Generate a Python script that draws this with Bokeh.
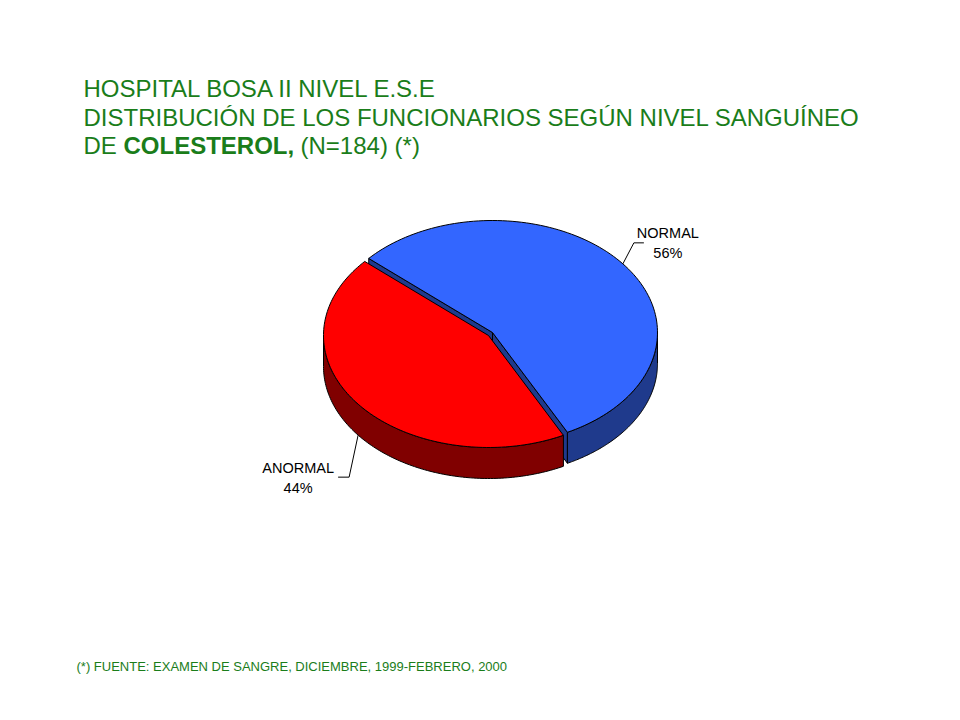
import math
from bokeh.plotting import figure
from bokeh.models import Range1d
from bokeh.core.properties import value
from bokeh.embed import file_html
from bokeh.resources import INLINE

# ---- data ----
categories = ["NORMAL", "ANORMAL"]
percents = [56, 44]
top_colors = ["#3366FF", "#FF0000"]
side_colors = ["#1F3A8C", "#800000"]

title_lines = ["HOSPITAL BOSA II NIVEL E.S.E",
               "DISTRIBUCIÓN DE LOS FUNCIONARIOS SEGÚN  NIVEL  SANGUÍNEO"]
title_line3 = ["DE", "COLESTEROL,", "(N=184) (*)"]
footnote = "(*) FUENTE:  EXAMEN DE SANGRE, DICIEMBRE,  1999-FEBRERO,   2000"

GREEN = "#1A7D1A"
FONT = "Liberation Sans"

W, H = 944, 704
p = figure(width=W, height=H, output_backend="svg", toolbar_location=None,
           x_range=Range1d(0, W), y_range=Range1d(H, 0),
           min_border=0)
p.axis.visible = False
p.grid.visible = False
p.outline_line_color = None
p.background_fill_color = "white"
p.border_fill_color = "white"

# ---- pie geometry (projected 3D pie) ----
CX, CY = 492.0, 332.0
RX, RY = 165.0, 112.0
DEPTH = 31.0
START = -63.0  # degrees, parametric angle where first slice starts (ccw)
offsets = [(0.0, 0.0), (-4.0, 3.0)]  # explode of each slice


def pt(t, cx, cy, dz=0.0):
    r = math.radians(t)
    return cx + RX * math.cos(r), cy - RY * math.sin(r) + dz


def arc(a, b, cx, cy, dz=0.0, n=120):
    xs, ys = [], []
    for i in range(n + 1):
        t = a + (b - a) * i / n
        x, y = pt(t, cx, cy, dz)
        xs.append(x)
        ys.append(y)
    return xs, ys


total = sum(percents)
slices = []
ang = START
for cat, pc in zip(categories, percents):
    span = 360.0 * pc / total
    slices.append((ang, ang + span))
    ang += span


def front_ranges(a, b):
    # parts of [a, b] where sin(t) < 0 (front of the pie)
    res = []
    for k in range(-2, 3):
        lo, hi = 180 + 360 * k, 360 + 360 * k
        s, e = max(a, lo), min(b, hi)
        if e > s:
            res.append((s, e))
    return res


def draw_slice(i, radial=True):
    a, b = slices[i]
    ox, oy = offsets[i]
    cx, cy = CX + ox, CY + oy
    if radial:
        for t in (a, b):
            rx_, ry_ = pt(t, cx, cy)
            p.patch([cx, rx_, rx_, cx], [cy, ry_, ry_ + DEPTH, cy + DEPTH],
                    fill_color=side_colors[i], line_color="black", line_width=1)
    for s, e in front_ranges(a, b):
        xs1, ys1 = arc(s, e, cx, cy)
        xs2, ys2 = arc(s, e, cx, cy, DEPTH)
        p.patch(xs1 + xs2[::-1], ys1 + ys2[::-1],
                fill_color=side_colors[i], line_color="black", line_width=1)
    xs, ys = arc(a, b, cx, cy)
    p.patch([cx] + xs + [cx], [cy] + ys + [cy],
            fill_color=top_colors[i], line_color="black", line_width=1)


draw_slice(0, radial=True)
draw_slice(1, radial=False)

# ---- labels with leader lines ----
# NORMAL
a, b = slices[0]
mid = (a + b) / 2
sx, sy = pt(mid, CX + offsets[0][0], CY + offsets[0][1])
ex, ey = sx + 11, sy - 21
p.line([sx, ex, ex + 10], [sy, ey, ey], line_color="black", line_width=1)
lx, ly = ex + 34, ey - 10
p.text([lx, lx], [ly, ly + 20], text=[categories[0], f"{percents[0]}%"],
       text_font=value(FONT), text_font_size="14.5px", text_align="center",
       text_baseline="middle", text_color="black")

# ANORMAL
a, b = slices[1]
mid = (a + b) / 2
sx, sy = pt(mid, CX + offsets[1][0], CY + offsets[1][1], DEPTH)
ex, ey = sx - 9, sy + 42
p.line([sx, ex, ex - 11], [sy, ey, ey], line_color="black", line_width=1)
lx, ly = ex - 51, ey - 9
p.text([lx, lx], [ly, ly + 20], text=[categories[1], f"{percents[1]}%"],
       text_font=value(FONT), text_font_size="14.5px", text_align="center",
       text_baseline="middle", text_color="black")

# ---- title ----
TX = 83
FS = "24px"
p.text([TX, TX], [87.5, 116.5], text=title_lines, text_font=value(FONT),
       text_font_size=FS, text_align="left", text_baseline="alphabetic",
       text_color=GREEN)
p.text([TX], [145], text=[title_line3[0]], text_font=value(FONT),
       text_font_size=FS, text_align="left", text_baseline="alphabetic",
       text_color=GREEN)
p.text([TX + 40], [145], text=[title_line3[1]], text_font=value(FONT),
       text_font_size=FS, text_font_style="bold", text_align="left",
       text_baseline="alphabetic", text_color=GREEN)
p.text([TX + 40 + 177], [145], text=[title_line3[2]], text_font=value(FONT),
       text_font_size=FS, text_align="left", text_baseline="alphabetic",
       text_color=GREEN)

# ---- footnote ----
p.text([76], [666], text=[footnote], text_font=value(FONT),
       text_font_size="13px", text_align="left", text_baseline="middle",
       text_color=GREEN)

open("out.html", "w").write(file_html(p, INLINE))
